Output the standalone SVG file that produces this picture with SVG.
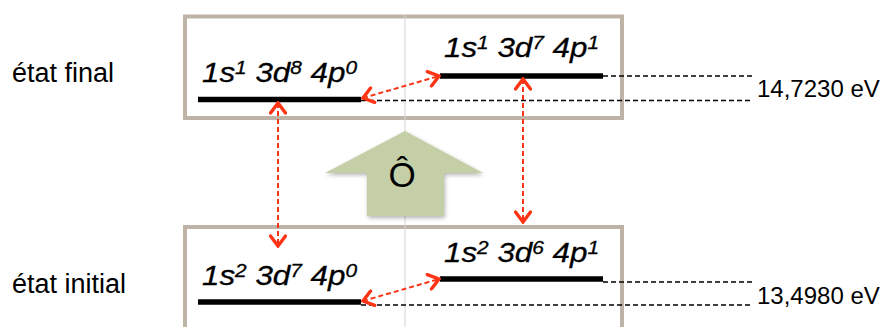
<svg xmlns="http://www.w3.org/2000/svg" width="882" height="327" viewBox="0 0 882 327">
<defs>
<style>
.box{fill:#fff;stroke:#bdb4a7;stroke-width:4}
.grid{stroke:#d4d4d4;stroke-width:1}
.bar{stroke:#000;stroke-width:5.5}
.lvl{stroke:#000;stroke-width:1.6;stroke-dasharray:5 3;fill:none}
.tr{stroke:#ff3414;stroke-width:2;stroke-dasharray:5 3;fill:none;marker-start:url(#hd);marker-end:url(#hd)}
.cfg{font-family:"Liberation Sans",Arial,sans-serif;font-style:italic;font-size:28.5px;fill:#000;stroke:#000;stroke-width:0.3}
.s{font-size:19px}
.lab{font-family:"Liberation Sans",Arial,sans-serif;font-size:27px;fill:#000}
.ev{font-family:"Liberation Sans",Arial,sans-serif;font-size:24px;fill:#000}
</style>
<marker id="hd" viewBox="-13 -9 15 18" markerWidth="15" markerHeight="18" refX="0" refY="0" orient="auto-start-reverse" markerUnits="userSpaceOnUse">
<path d="M-10,-7.5 L0,0 L-10,7.5" fill="none" stroke="#ff3414" stroke-width="3.4" stroke-linecap="round" stroke-linejoin="miter"/>
</marker>
<filter id="sh" x="-20%" y="-20%" width="140%" height="140%">
<feGaussianBlur in="SourceAlpha" stdDeviation="2"/>
<feOffset dx="1" dy="2" result="b"/>
<feComponentTransfer><feFuncA type="linear" slope="0.3"/></feComponentTransfer>
<feMerge><feMergeNode/><feMergeNode in="SourceGraphic"/></feMerge>
</filter>
</defs>
<rect width="882" height="327" fill="#fff"/>

<g id="box-final">
<rect class="box" x="185" y="16.5" width="437" height="101.5"/>
</g>
<g id="box-initial">
<rect class="box" x="185" y="227" width="437" height="112"/>
</g>
<line class="grid" x1="405" y1="15" x2="405" y2="327"/>

<g id="label-final"><text class="lab" x="12" y="82">état final</text></g>
<g id="label-initial"><text class="lab" x="12" y="293">état initial</text></g>

<g id="operator">
<polygon points="405,131 483,173 444,173 444,216 367,216 367,173 325,173" fill="#c4cfa7" filter="url(#sh)"/>
<text x="402" y="187" text-anchor="middle" font-family="Liberation Sans, Arial, sans-serif" font-size="35" fill="#000">Ô</text>
</g>

<g id="final-a">
<line class="bar" x1="198" y1="99.5" x2="361" y2="99.5"/>
<text class="cfg" transform="translate(202,82) scale(1.1,1)">1s<tspan class="s" dy="-8">1</tspan><tspan dy="8"> 3d</tspan><tspan class="s" dy="-8">8</tspan><tspan dy="8"> 4p</tspan><tspan class="s" dy="-8">0</tspan></text>
</g>
<g id="final-b">
<line class="bar" x1="440" y1="76" x2="603" y2="76"/>
<text class="cfg" transform="translate(444,57) scale(1.1,1)">1s<tspan class="s" dy="-8">1</tspan><tspan dy="8"> 3d</tspan><tspan class="s" dy="-8">7</tspan><tspan dy="8"> 4p</tspan><tspan class="s" dy="-8">1</tspan></text>
</g>
<g id="initial-a">
<line class="bar" x1="198" y1="302" x2="361" y2="302"/>
<text class="cfg" transform="translate(202,285) scale(1.1,1)">1s<tspan class="s" dy="-8">2</tspan><tspan dy="8"> 3d</tspan><tspan class="s" dy="-8">7</tspan><tspan dy="8"> 4p</tspan><tspan class="s" dy="-8">0</tspan></text>
</g>
<g id="initial-b">
<line class="bar" x1="440" y1="279" x2="603" y2="279"/>
<text class="cfg" transform="translate(444,262) scale(1.1,1)">1s<tspan class="s" dy="-8">2</tspan><tspan dy="8"> 3d</tspan><tspan class="s" dy="-8">6</tspan><tspan dy="8"> 4p</tspan><tspan class="s" dy="-8">1</tspan></text>
</g>

<g id="energy-final"><text class="ev" x="757" y="97">14,7230 eV</text></g>
<g id="energy-initial"><text class="ev" x="757" y="304">13,4980 eV</text></g>

<g id="connectors">
<line class="lvl" x1="603" y1="76" x2="753" y2="76"/>
<line class="lvl" x1="361" y1="100.5" x2="753" y2="100.5"/>
<line class="lvl" x1="603" y1="282" x2="753" y2="282"/>
<line class="lvl" x1="361" y1="305" x2="753" y2="305"/>
<line class="tr" x1="363" y1="98" x2="439" y2="76"/>
<line class="tr" x1="363" y1="301" x2="439" y2="279"/>
<line class="tr" x1="278" y1="103" x2="278" y2="246"/>
<line class="tr" x1="523" y1="79" x2="523" y2="222"/>
</g>
</svg>
